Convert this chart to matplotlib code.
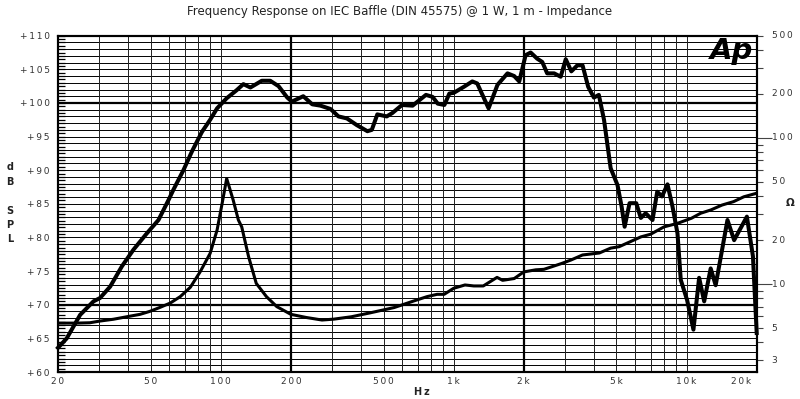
import matplotlib
matplotlib.use("Agg")
import matplotlib.pyplot as plt
import matplotlib.transforms as mtransforms
import numpy as np

spl_freq = [20, 21.8, 24.9, 28.4, 30.3, 33.5, 37.6, 42.2, 48.1, 54, 59.7, 62.6,
            69.1, 75.2, 83, 90, 96.4, 106, 117, 125, 134, 150, 163, 177, 193,
            202, 226, 247, 268, 296, 320, 348, 384, 426, 445, 470, 516, 545,
            600, 666, 760, 812, 854, 912, 958, 1000, 1106, 1202, 1262, 1412,
            1542, 1702, 1819, 1912, 2036, 2140, 2280, 2400, 2520, 2700, 2880,
            3028, 3200, 3398, 3575, 3780, 4000, 4200, 4420, 4720, 5050, 5260,
            5420, 5690, 6080, 6360, 6670, 7140, 7480, 7840, 8280, 8700, 9140,
            9440, 10050, 10700, 11320, 11900, 12690, 13330, 14980, 16000,
            18150, 19270, 20000]
spl_db = [63.6, 65.0, 68.5, 70.5, 71.0, 72.7, 75.7, 78.2, 80.6, 82.6, 85.6, 87.1,
          90.0, 92.8, 95.7, 97.5, 99.2, 100.7, 101.9, 102.8, 102.3, 103.3, 103.3,
          102.5, 100.8, 100.2, 101.0, 99.8, 99.6, 99.1, 98.0, 97.7, 96.7, 95.8,
          96.0, 98.3, 98.0, 98.5, 99.7, 99.6, 101.2, 100.9, 99.9, 99.7, 101.4,
          101.5, 102.4, 103.2, 102.9, 99.2, 102.7, 104.4, 104.0, 103.2, 107.1,
          107.5, 106.6, 106.1, 104.4, 104.4, 103.9, 106.5, 104.7, 105.6, 105.6,
          102.4, 100.8, 101.2, 97.5, 90.3, 87.8, 84.6, 81.6, 85.1, 85.1, 82.9,
          83.6, 82.6, 86.8, 86.1, 87.9, 84.6, 80.6, 73.7, 70.7, 66.3, 74.0, 70.5,
          75.4, 72.9, 82.6, 79.6, 83.1, 77.2, 65.8]

imp_freq = [20, 24, 27.4, 30.3, 34.6, 39.5, 45, 49.6, 54.6, 60.6, 67, 74, 81.5,
            90, 96.4, 101.3, 106, 113, 119, 123, 131.6, 142, 157, 174, 200, 233,
            272, 306, 364, 440, 555, 673, 769, 849, 910, 1000, 1118, 1220, 1340,
            1535, 1622, 1819, 2000, 2250, 2440, 2900, 3190, 3575, 4220, 4720,
            5130, 5740, 6360, 7000, 8000, 9140, 10500, 11500, 12700, 14200,
            15900, 17600, 20000]
imp_ohm = [5.4, 5.4, 5.43, 5.58, 5.74, 5.97, 6.2, 6.5, 6.9, 7.4, 8.2, 9.5, 12.1,
           16.2, 23.4, 35.5, 52.7, 37.6, 27.4, 24.6, 15.4, 10.1, 8.2, 7.0, 6.2,
           5.9, 5.67, 5.75, 5.97, 6.36, 6.9, 7.65, 8.2, 8.5, 8.5, 9.35, 9.85, 9.7,
           9.7, 11.1, 10.6, 10.9, 12.1, 12.5, 12.6, 13.8, 14.6, 15.8, 16.3, 17.6,
           18.0, 19.5, 21.0, 21.9, 24.6, 26.0, 28.2, 30.5, 32.1, 34.7, 36.6,
           39.5, 41.8]

# Achsbeschriftungen
db_ticks = [60, 65, 70, 75, 80, 85, 90, 95, 100, 105, 110]
hz_ticks = [20, 50, 100, 200, 500, 1000, 2000, 5000, 10000, 20000]
hz_labels = ["20", "50", "100", "200", "500", "1k", "2k", "5k", "10k", "20k"]
ohm_ticks = [3, 4, 5, 6, 7, 8, 9, 10, 20, 30, 40, 50, 60, 70, 80, 90,
             100, 200, 300, 400, 500]
ohm_labels = {3: "3", 5: "5", 10: "10", 20: "20", 50: "50",
              100: "100", 200: "200", 500: "500"}
grid_freqs = [30, 40, 50, 60, 70, 80, 90, 100, 300, 400, 500, 600, 700, 800,
              900, 1000, 3000, 4000, 5000, 6000, 7000, 8000, 9000, 10000]


def spaced(s):
    return "\u2009".join(s)


fig = plt.figure(figsize=(8, 3.99), dpi=100)
W, H = 800, 399
ax = fig.add_axes([58 / W, 1 - 372 / H, (756.7 - 58) / W, (372 - 35.7) / H])

ax.set_xscale("log")
ax.set_xlim(20, 20000)
ax.set_ylim(60, 110)

# Raster
for d in np.arange(61, 110):
    thick = d in (70, 100)
    ax.axhline(d, color="black", lw=1.6 if thick else 0.7, zorder=1)
for f in grid_freqs:
    ax.axvline(f, color="#222222", lw=0.7, zorder=1)
for f in (200, 2000):
    ax.axvline(f, color="black", lw=1.6, zorder=1)

ax.plot(spl_freq, spl_db, color="black", lw=2.9, solid_joinstyle="round",
        zorder=5, clip_on=False)

# linke Achse
ax.set_yticks(db_ticks)
ax.set_yticklabels([spaced("+%d" % d) for d in db_ticks], fontsize=6.5,
                   color="#333333")
ax.set_yticks(np.arange(60, 110.01, 0.5), minor=True)
ax.tick_params(axis="y", which="both", direction="in", length=5, width=0.9,
               pad=6)
ax.set_xticks([])
ax.set_xticks([], minor=True)

trans_x = mtransforms.blended_transform_factory(ax.transData, ax.transAxes)
for f, lbl in zip(hz_ticks, hz_labels):
    ha = "center"
    tr = trans_x
    if f == hz_ticks[-1]:
        ha = "right"
        tr = mtransforms.offset_copy(trans_x, fig=fig, x=-6, y=0, units="dots")
    ax.text(f, -10 / 336.3, spaced(lbl), transform=tr, ha=ha, va="center",
            fontsize=6.5, color="#333333")

for sp in ax.spines.values():
    sp.set_linewidth(1.5)

# rechte Achse (Impedanz)
ax2 = ax.twinx()
ax2.set_yscale("log")
ax2.set_ylim(2.5, 500)
ax2.plot(imp_freq, imp_ohm, color="black", lw=2.2, solid_joinstyle="round",
         zorder=5)
ax2.set_yticks([10, 100])
ax2.set_yticks([v for v in ohm_ticks if v not in (10, 100)], minor=True)
ax2.yaxis.set_major_formatter(plt.NullFormatter())
ax2.yaxis.set_minor_formatter(plt.NullFormatter())
ax2.tick_params(axis="y", which="major", direction="out", length=10.8,
                width=0.8, color="#444444")
ax2.tick_params(axis="y", which="minor", direction="out", length=4.3,
                width=0.8, color="#444444")
for sp in ax2.spines.values():
    sp.set_linewidth(1.5)

trans_r = mtransforms.offset_copy(
    mtransforms.blended_transform_factory(ax2.transAxes, ax2.transData),
    fig=fig, x=15, y=0, units="dots")
for v, lbl in ohm_labels.items():
    ax2.text(1.0, v, spaced(lbl), transform=trans_r, ha="left", va="center",
             fontsize=6.5, color="#333333")

# Texte
fig.text(0.5, 1 - 11 / H,
         "Frequency Response on IEC Baffle (DIN 45575) @ 1 W, 1 m - Impedance",
         ha="center", va="center", fontsize=8.5, color="#222222")
for ch, y in zip("dBSPL", [166.7, 182, 211, 225, 239]):
    fig.text(10 / W, 1 - y / H, ch, ha="center", va="center", fontsize=7,
             fontweight="bold", color="#222222")
fig.text(422 / W, 1 - 392 / H, spaced("Hz"), ha="center", va="center",
         fontsize=7, fontweight="bold", color="#222222")
fig.text(790 / W, 1 - 203 / H, "\u03a9", ha="center", va="center",
         fontsize=7.5, fontweight="bold", color="#222222")
fig.text(753 / W, 1 - 51 / H, "Ap", ha="right", va="center", fontsize=21,
         fontweight="bold", style="italic", color="black")

fig.savefig("out.png", dpi=100)
